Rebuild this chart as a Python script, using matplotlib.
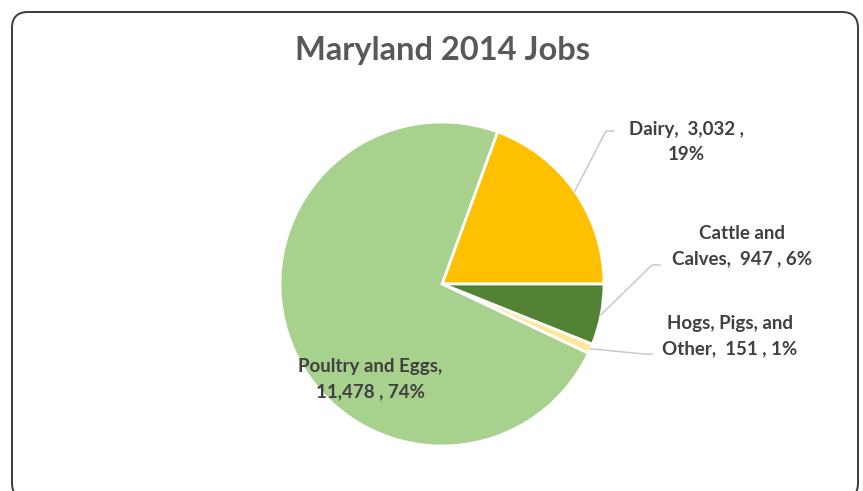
import numpy as np
import matplotlib.pyplot as plt
from matplotlib.patches import FancyBboxPatch

# Maryland agricultural jobs, 2014
categories = ['Dairy', 'Cattle and Calves', 'Hogs, Pigs, and Other', 'Poultry and Eggs']
jobs = [3032, 947, 151, 11478]
colors = ['#FFC000', '#548235', '#FFE699', '#A9D18E']

# label text (wrapped as shown) and anchor position in pixels (x, y from top)
label_text = ['Dairy,  3,032 ,\n19%',
              'Cattle and\nCalves,  947 , 6%',
              'Hogs, Pigs, and\nOther,  151 , 1%',
              'Poultry and Eggs,\n11,478 , 74%']
label_pos = [(686, 142), (742, 246), (730, 336), (370, 379)]
# where the leader line meets the label (None = label sits inside the slice)
leader_end = [(614, 131), (660, 265), (652, 354), None]

W, H = 863, 491
plt.rcParams['font.family'] = ['Lato', 'DejaVu Sans']

fig = plt.figure(figsize=(W / 100, H / 100), dpi=100)
ax = fig.add_axes([0, 0, 1, 1])

# rounded chart border
border = FancyBboxPatch((12, -8), 846, 487, boxstyle='round,pad=0,rounding_size=16',
                        fc='white', ec='#3a3a3a', lw=1.4, zorder=0)
ax.add_patch(border)

cx, cy, r = 442, H - 284, 162
total = sum(jobs)
start = jobs[0] / total * 360  # dairy ends on the horizontal
wedges, _ = ax.pie(jobs, colors=colors, startangle=start, counterclock=False,
                   center=(cx, cy), radius=r, frame=True,
                   wedgeprops=dict(edgecolor='white', linewidth=2))
ax.set_xlim(0, W)
ax.set_ylim(0, H)
ax.set_aspect('equal')
ax.axis('off')

for w, txt, (lx, ly), end in zip(wedges, label_text, label_pos, leader_end):
    ax.text(lx, H - ly, txt, ha='center', va='center', fontsize=13.5,
            fontweight='bold', color='#404040', linespacing=1.6)
    if end is not None:
        mid = np.deg2rad((w.theta1 + w.theta2) / 2)
        px, py = cx + r * np.cos(mid), cy + r * np.sin(mid)
        ex, ey = end
        ax.plot([px, ex - 8, ex], [py, H - ey, H - ey], color='#c4c4c4', lw=1)

ax.text(442, H - 50, 'Maryland 2014 Jobs', ha='center', va='center',
        fontsize=23.5, fontweight='bold', color='#595959')

fig.savefig('out.png', dpi=100)
